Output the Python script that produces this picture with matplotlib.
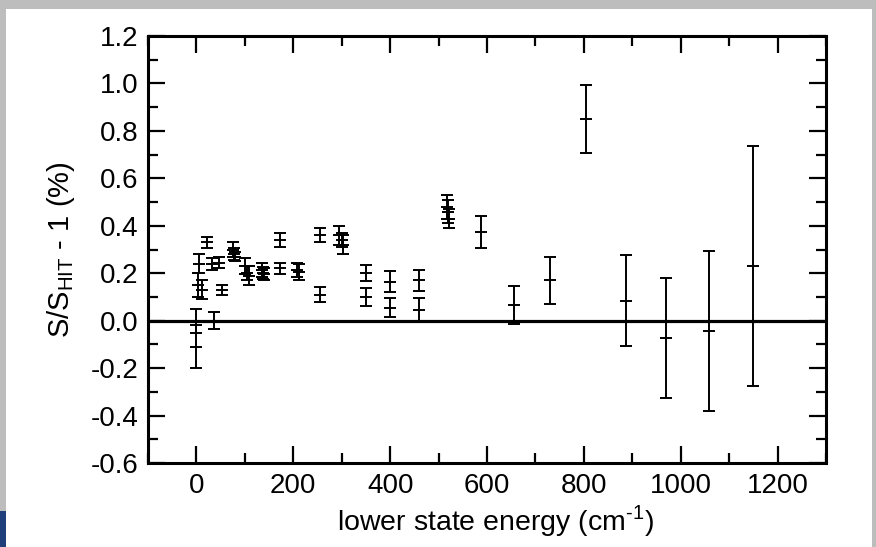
#!/usr/bin/env python

import matplotlib
matplotlib.use("Agg")
import matplotlib.pyplot as plt
from matplotlib.patches import Rectangle
from matplotlib.ticker import MultipleLocator

plt.rcParams["font.family"] = ["Liberation Sans", "DejaVu Sans"]
plt.rcParams["mathtext.fontset"] = "custom"
plt.rcParams["mathtext.rm"] = "Liberation Sans"

# lower state energy (cm-1), S/S_HIT - 1 (%), and uncertainty
energy = [0, 0, 3, 5, 12, 22, 32, 37, 47, 52, 75, 78, 80, 100, 105, 108,
          135, 138, 140, 172, 172, 208, 212, 255, 255, 295, 300, 302,
          350, 350, 400, 400, 460, 460, 518, 520, 522, 587, 656, 730,
          805, 887, 970, 1058, 1150]
ratio = [0.00, -0.11, 0.15, 0.24, 0.13, 0.33, 0.24, 0.00, 0.245, 0.13,
         0.30, 0.28, 0.27, 0.23, 0.20, 0.19, 0.215, 0.20, 0.195, 0.34,
         0.22, 0.215, 0.205, 0.36, 0.11, 0.36, 0.34, 0.32, 0.20, 0.10,
         0.165, 0.055, 0.17, 0.045, 0.48, 0.46, 0.43, 0.375, 0.065, 0.17,
         0.85, 0.085, -0.075, -0.042, 0.232]
err = [0.05, 0.09, 0.05, 0.04, 0.04, 0.022, 0.025, 0.035, 0.025, 0.022,
       0.03, 0.025, 0.02, 0.035, 0.03, 0.04, 0.03, 0.025, 0.025, 0.03,
       0.025, 0.03, 0.035, 0.03, 0.032, 0.04, 0.03, 0.04, 0.033, 0.037,
       0.045, 0.04, 0.045, 0.05, 0.05, 0.05, 0.04, 0.067, 0.08, 0.10,
       0.145, 0.19, 0.253, 0.337, 0.506]


def plot():
    fig = plt.figure(figsize=(8.76, 5.47), dpi=100, facecolor="#bdbdbd")
    # white slide area inside a grey frame
    fig.patches.append(Rectangle((6 / 876, 0), 1 - 10 / 876, 1 - 9 / 547,
                                 transform=fig.transFigure, facecolor="white",
                                 edgecolor="none", zorder=-5))
    fig.patches.append(Rectangle((0, 0), 6 / 876, 36 / 547,
                                 transform=fig.transFigure, facecolor="#1f3f7a",
                                 edgecolor="none", zorder=-4))
    ax = fig.add_axes([148 / 876, 1 - 463 / 547, 678 / 876, 427 / 547])

    ax.axhline(0, color="black", lw=2.3, zorder=1)
    ax.errorbar(energy, ratio, yerr=err, fmt="_", color="black", ms=8,
                mew=1.4, elinewidth=1.4, capsize=4, capthick=1.4, zorder=2)

    ax.set_xlim(-100, 1300)
    ax.set_ylim(-0.6, 1.2)
    ax.xaxis.set_major_locator(MultipleLocator(200))
    ax.xaxis.set_minor_locator(MultipleLocator(100))
    ax.yaxis.set_major_locator(MultipleLocator(0.2))
    ax.yaxis.set_minor_locator(MultipleLocator(0.1))
    ax.yaxis.set_major_formatter(lambda v, pos: f"{v:.1f}")

    ax.tick_params(which="both", direction="in", top=True, right=True,
                   width=1.6, labelsize=20, pad=7)
    ax.tick_params(which="major", length=12)
    ax.tick_params(which="minor", length=7)
    for s in ax.spines.values():
        s.set_linewidth(2.2)

    ax.set_xlabel(r"lower state energy (cm$^{\text{-1}}$)", fontsize=20.5,
                  labelpad=3)
    ax.xaxis.set_label_coords(0.512, -0.095)
    ax.set_ylabel(r"S/S$_{\text{HIT}}$ - 1 (%)", fontsize=21, labelpad=10)

    fig.savefig("out.png", dpi=100, facecolor=fig.get_facecolor())


if __name__ == "__main__":
    plot()
